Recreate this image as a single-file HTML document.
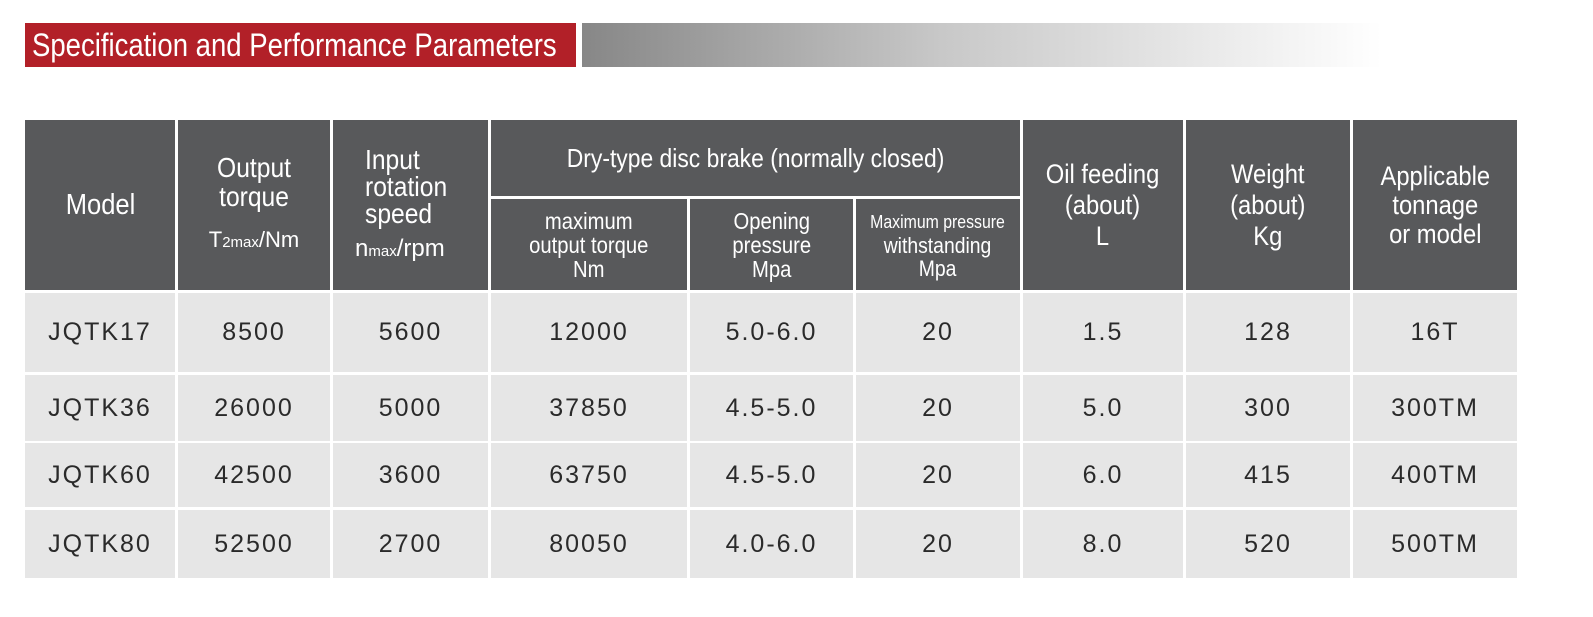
<!DOCTYPE html>
<html><head><meta charset="utf-8"><style>
body{margin:0;width:1593px;height:617px;background:#fff;position:relative;overflow:hidden;font-family:"Liberation Sans",sans-serif}
.a{position:absolute;box-sizing:border-box;display:flex;align-items:center;justify-content:center;text-align:center}
.h{background:#58595b;color:#fff;font-size:24px;line-height:25px;flex-direction:column}
.b{background:#e6e6e6;color:#2a2a2a;font-size:25px;letter-spacing:2px}
.n{display:inline-block;transform:scaleX(0.88)}
sub{font-size:15px;vertical-align:baseline}
</style></head><body>
<div class="a" style="left:25px;top:23px;width:551px;height:44px;background:#b22028;color:#fff;font-size:32px;justify-content:flex-start;padding-left:7px;overflow:hidden"><span class="n" style="transform-origin:left;transform:scaleX(0.86);white-space:nowrap">Specification and Performance Parameters</span></div>
<div style="position:absolute;left:582px;top:23px;width:800px;height:44px;background:linear-gradient(90deg,#878787,#c8c8c8 45%,#fff)"></div>

<div class="a h" style="left:25px;top:120px;width:150px;height:170px;font-size:29px"><span class="n">Model</span></div>
<div class="a h" style="left:178px;top:120px;width:152px;height:170px;font-size:28px;line-height:29px"><span class="n">Output<br>torque</span><span style="margin-top:14px;font-size:22px">T<sub>2max</sub>/Nm</span></div>
<div class="a h" style="left:333px;top:120px;width:155px;height:170px;font-size:28px;line-height:27px;align-items:flex-start;padding-left:32px;text-align:left"><span class="n" style="transform-origin:left">Input<br>rotation<br>speed</span><span style="margin-top:8px;font-size:24px;margin-left:-10px">n<sub>max</sub>/rpm</span></div>
<div class="a h" style="left:491px;top:120px;width:529px;height:76px;font-size:26px"><span class="n" style="white-space:nowrap">Dry-type disc brake (normally closed)</span></div>
<div class="a h" style="left:491px;top:199px;width:196px;height:91px;font-size:23px;line-height:24px"><span class="n">maximum<br>output torque<br>Nm</span></div>
<div class="a h" style="left:690px;top:199px;width:163px;height:91px;font-size:23px;line-height:24px"><span class="n">Opening<br>pressure<br>Mpa</span></div>
<div class="a h" style="left:856px;top:199px;width:164px;height:91px;font-size:22px;line-height:23px"><span class="n" style="white-space:nowrap"><span style="font-size:18px">Maximum pressure</span><br>withstanding<br>Mpa</span></div>
<div class="a h" style="left:1023px;top:120px;width:160px;height:170px;font-size:27px;line-height:31px"><span class="n">Oil feeding<br>(about)<br>L</span></div>
<div class="a h" style="left:1186px;top:120px;width:164px;height:170px;font-size:27px;line-height:31px"><span class="n">Weight<br>(about)<br>Kg</span></div>
<div class="a h" style="left:1353px;top:120px;width:164px;height:170px;font-size:27px;line-height:29px"><span class="n">Applicable<br>tonnage<br>or model</span></div>

<div id="rows"></div>
<script>
const cols=[[25,150],[178,152],[333,155],[491,196],[690,163],[856,164],[1023,160],[1186,164],[1353,164]];
const rows=[[293,79],[375,66],[443,64],[510,68]];
const d=[["JQTK17","8500","5600","12000","5.0-6.0","20","1.5","128","16T"],
["JQTK36","26000","5000","37850","4.5-5.0","20","5.0","300","300TM"],
["JQTK60","42500","3600","63750","4.5-5.0","20","6.0","415","400TM"],
["JQTK80","52500","2700","80050","4.0-6.0","20","8.0","520","500TM"]];
let h="";
rows.forEach((r,i)=>cols.forEach((c,j)=>{h+=`<div class="a b" style="left:${c[0]}px;top:${r[0]}px;width:${c[1]}px;height:${r[1]}px">${d[i][j]}</div>`}));
document.getElementById("rows").outerHTML=h;
</script>
</body></html>
